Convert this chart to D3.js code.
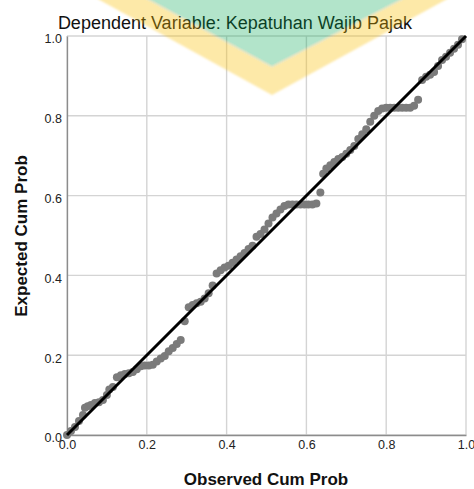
<!DOCTYPE html>
<html><head><meta charset="utf-8">
<script src="https://cdn.jsdelivr.net/npm/d3@7"></script>
<style>
html,body{margin:0;padding:0;background:#fff;}
svg{display:block;font-family:"Liberation Sans",Arial,sans-serif;}
</style></head>
<body>
<svg id="chart" width="474" height="489"></svg>
<script>
const chartTitle = "Dependent Variable: Kepatuhan Wajib Pajak";
const xTitle = "Observed Cum Prob";
const yTitle = "Expected Cum Prob";
const tickValues = [0, 0.2, 0.4, 0.6, 0.8, 1.0];

const obsProb = [0.000,0.010,0.020,0.030,0.040,0.045,0.052,0.060,0.070,0.080,0.090,0.100,0.106,0.115,0.125,0.135,0.145,0.155,0.165,0.175,0.185,0.195,0.205,0.215,0.225,0.235,0.245,0.255,0.265,0.275,0.285,0.295,0.305,0.315,0.325,0.335,0.345,0.355,0.365,0.375,0.385,0.395,0.405,0.415,0.425,0.435,0.445,0.455,0.465,0.475,0.485,0.495,0.505,0.515,0.525,0.535,0.545,0.555,0.565,0.575,0.585,0.595,0.605,0.615,0.625,0.635,0.642,0.650,0.660,0.670,0.680,0.690,0.700,0.710,0.720,0.730,0.740,0.750,0.760,0.770,0.780,0.790,0.800,0.810,0.820,0.830,0.840,0.850,0.860,0.870,0.880,0.890,0.900,0.910,0.920,0.930,0.940,0.950,0.960,0.970,0.980,0.990];
const expProb = [0.000,0.010,0.020,0.035,0.050,0.068,0.072,0.075,0.080,0.082,0.088,0.100,0.114,0.120,0.145,0.150,0.153,0.155,0.158,0.165,0.172,0.174,0.174,0.176,0.184,0.192,0.198,0.210,0.218,0.228,0.238,0.285,0.320,0.326,0.330,0.334,0.342,0.355,0.375,0.405,0.413,0.420,0.424,0.432,0.440,0.448,0.456,0.466,0.474,0.497,0.504,0.515,0.530,0.545,0.555,0.565,0.574,0.578,0.578,0.578,0.578,0.578,0.578,0.578,0.580,0.608,0.655,0.668,0.676,0.684,0.692,0.697,0.705,0.714,0.724,0.742,0.754,0.766,0.785,0.800,0.812,0.818,0.820,0.820,0.820,0.820,0.820,0.820,0.820,0.825,0.840,0.890,0.898,0.903,0.910,0.925,0.940,0.948,0.958,0.968,0.978,0.992];
const refLine = [0, 1];

const svg = d3.select("#chart");
const x = d3.scaleLinear().domain([0,1]).range([67,466]);
const y = d3.scaleLinear().domain([0,1]).range([435,36]);

// grid
const g = svg.append("g");
g.selectAll("line.vg").data(tickValues).enter().append("line")
  .attr("x1", d=>x(d)).attr("x2", d=>x(d)).attr("y1", y(0)).attr("y2", y(1))
  .attr("stroke", "#d4d4d4").attr("stroke-width", 1.4);
g.selectAll("line.hg").data(tickValues).enter().append("line")
  .attr("y1", d=>y(d)).attr("y2", d=>y(d)).attr("x1", x(0)).attr("x2", x(1))
  .attr("stroke", "#d4d4d4").attr("stroke-width", 1.4);

// axes
const fmt = d3.format(".1f");
const xa = svg.append("g").attr("transform", `translate(0,${y(0)})`)
  .call(d3.axisBottom(x).tickValues(tickValues).tickSize(0).tickPadding(5).tickFormat(fmt));
const ya = svg.append("g").attr("transform", `translate(${x(0)},0)`)
  .call(d3.axisLeft(y).tickValues(tickValues).tickSize(0).tickPadding(5).tickFormat(fmt));
[xa, ya].forEach(a => {
  a.select(".domain").attr("stroke", "#8c8c8c").attr("stroke-width", 1.3);
  a.selectAll("text").attr("font-size", 12.5).attr("fill", "#222")
   .attr("font-family", "'Liberation Sans',Arial,sans-serif");
});
ya.selectAll("text").attr("dy", "0.55em");
xa.selectAll("text").attr("dy", "0.7em");

// points
svg.append("g").selectAll("circle").data(obsProb.map((o,i)=>[o, expProb[i]])).enter()
  .append("circle").attr("cx", d=>x(d[0])).attr("cy", d=>y(d[1])).attr("r", 4)
  .attr("fill", "#7b7b7b");

// reference line
svg.append("line").attr("x1", x(refLine[0])).attr("y1", y(refLine[0]))
  .attr("x2", x(refLine[1])).attr("y2", y(refLine[1]))
  .attr("stroke", "#000").attr("stroke-width", 3);

// titles
svg.append("text").attr("x", 235).attr("y", 29).attr("text-anchor", "middle")
  .attr("font-size", 18).attr("fill", "#111").text(chartTitle);
svg.append("text").attr("x", 266).attr("y", 485).attr("text-anchor", "middle")
  .attr("font-size", 17).attr("font-weight", "bold").attr("fill", "#111").text(xTitle);
svg.append("text").attr("transform", "translate(27,236) rotate(-90)").attr("text-anchor", "middle")
  .attr("font-size", 17).attr("font-weight", "bold").attr("fill", "#111").text(yTitle);

// watermark overlay
const defs = svg.append("defs");
defs.append("filter").attr("id", "soft").append("feGaussianBlur").attr("stdDeviation", 1.2);
const wm = svg.append("g").attr("filter", "url(#soft)");
wm.append("path").attr("d", "M96,-2 L449,-2 L272,95 Z M145,-2 L405,-2 L272,67 Z")
  .attr("fill-rule", "evenodd").attr("fill", "rgb(250,190,0)").attr("fill-opacity", 0.34);
wm.append("path").attr("d", "M145,-2 L405,-2 L272,67 Z")
  .attr("fill", "rgb(0,165,75)").attr("fill-opacity", 0.3);
</script>
</body></html>
